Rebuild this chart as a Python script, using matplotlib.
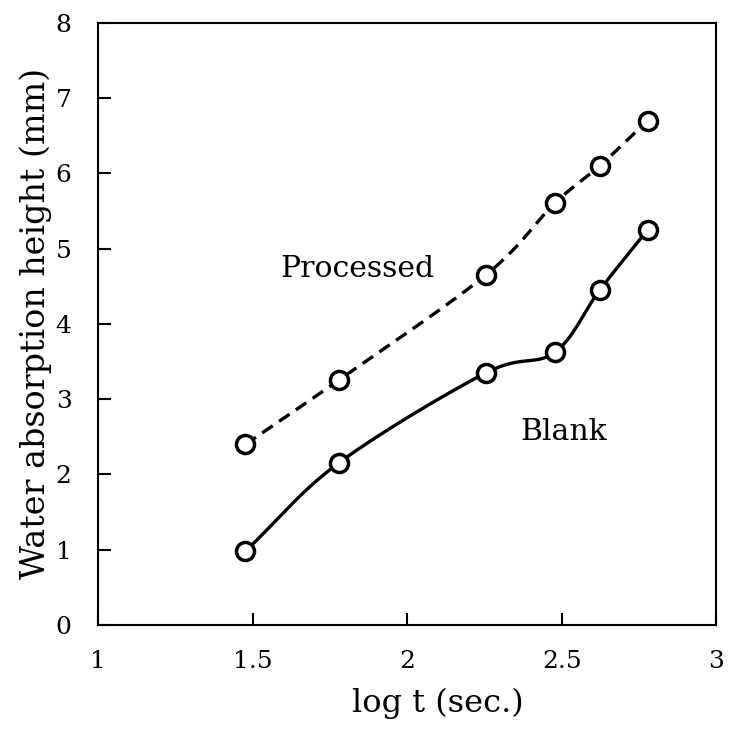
import numpy as np
import matplotlib
matplotlib.use("Agg")
import matplotlib.pyplot as plt

plt.rcParams['font.family'] = ['DejaVu Serif']

log_t = [1.477, 1.778, 2.255, 2.477, 2.623, 2.778]
processed = [2.40, 3.25, 4.65, 5.60, 6.10, 6.70]
blank = [0.98, 2.15, 3.35, 3.62, 4.45, 5.25]


def smooth(x, y, n=30):
    # catmull-rom curve through the points, like a spreadsheet "smoothed line"
    x = np.asarray(x, float)
    y = np.asarray(y, float)
    px = np.concatenate([[2 * x[0] - x[1]], x, [2 * x[-1] - x[-2]]])
    py = np.concatenate([[2 * y[0] - y[1]], y, [2 * y[-1] - y[-2]]])
    xs, ys = [], []
    t = np.linspace(0, 1, n)
    for i in range(1, len(px) - 2):
        for p, out in ((px, xs), (py, ys)):
            p0, p1, p2, p3 = p[i - 1], p[i], p[i + 1], p[i + 2]
            out.extend(0.5 * (2 * p1 + (-p0 + p2) * t
                              + (2 * p0 - 5 * p1 + 4 * p2 - p3) * t ** 2
                              + (-p0 + 3 * p1 - 3 * p2 + p3) * t ** 3))
    return xs, ys


fig = plt.figure(figsize=(7.31, 7.31), dpi=100)
ax = fig.add_axes([0.134, 0.145, 0.846, 0.824])

sx, sy = smooth(log_t, processed)
ax.plot(sx, sy, color='black', lw=2.4, ls=(0, (3.8, 2.3)))
sx, sy = smooth(log_t, blank)
ax.plot(sx, sy, color='black', lw=2.4)

for ys in (processed, blank):
    ax.plot(log_t, ys, 'o', ms=13, mfc='white', mec='black', mew=2.5, zorder=3)

ax.text(1.59, 4.62, "Processed", fontsize=21.5)
ax.text(2.366, 2.46, "Blank", fontsize=21.5)

ax.set_xlim(1, 3)
ax.set_ylim(0, 8)
ax.set_xticks([1, 1.5, 2, 2.5, 3])
ax.set_xticklabels(["1", "1.5", "2", "2.5", "3"])
ax.set_yticks(range(9))
ax.tick_params(direction='in', length=9, width=1.5, labelsize=18)
ax.tick_params(axis='x', pad=18)
ax.tick_params(axis='y', pad=19)
for s in ax.spines.values():
    s.set_linewidth(1.5)

ax.set_xlabel("log t (sec.)", fontsize=23)
ax.xaxis.set_label_coords(0.549, -0.105)
ax.set_ylabel("Water absorption height (mm)", fontsize=24)
ax.yaxis.set_label_coords(-0.074, 0.5)

fig.savefig("out.png", dpi=100)
